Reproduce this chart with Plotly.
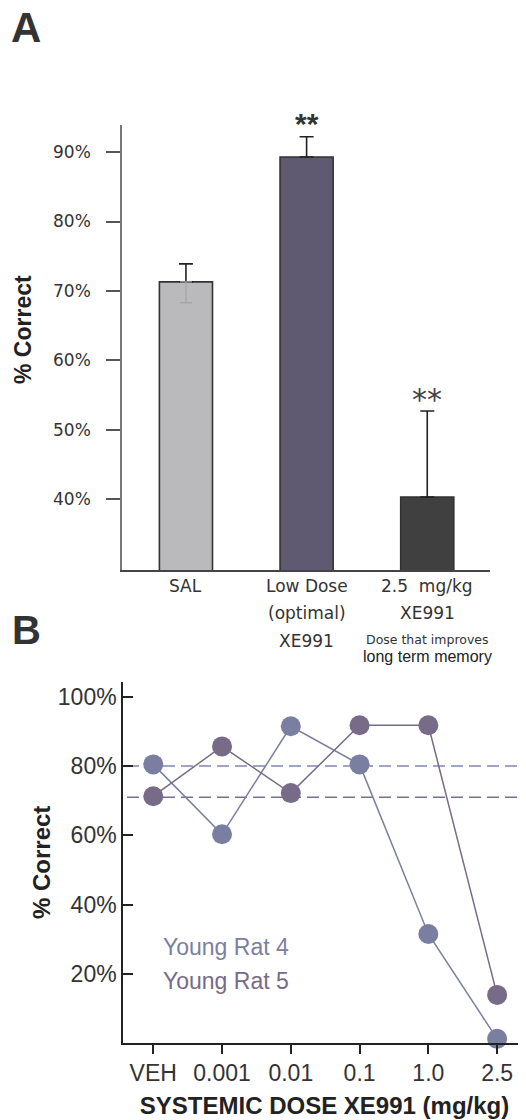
import plotly.graph_objects as go

# ---------------- Panel A data ----------------
groups_a = ["SAL", "Low Dose", "2.5 mg/kg"]
means_a = [71.3, 89.3, 40.3]
err_a = [2.6, 2.9, 12.4]
sal_lower_err = [3.0]
label_lines_a = [["SAL"], ["Low Dose", "(optimal)", "XE991"], ["2.5  mg/kg", "XE991"]]
note_lines_a = ["Dose that improves", "long term memory"]
yticks_a = [40, 50, 60, 70, 80, 90]
yticklabels_a = ["40%", "50%", "60%", "70%", "80%", "90%"]
stars_a = ["", "**", "**"]

# ---------------- Panel B data ----------------
doses_b = ["VEH", "0.001", "0.01", "0.1", "1.0", "2.5"]
rat4 = [80.5, 60.3, 91.5, 80.5, 31.5, 1.2]
rat5 = [71.3, 85.7, 72.2, 91.8, 91.8, 13.9]
ref_lines_b = [80.0, 71.0]
yticks_b = [20, 40, 60, 80, 100]
yticklabels_b = ["20%", "40%", "60%", "70%", "100%"][:0] or ["20%", "40%", "60%", "80%", "100%"]

# the page body adds an 8px margin, so the figure is sized to fit inside it
OFF = 8
W, H = 526 - OFF, 1120 - OFF - 1
def px(x):
    return (x - OFF) / W
def py(y):
    return 1 - (y - OFF) / H

bar_colors = ["#bababc", "#5f5a72", "#404040"]
c4 = "#7a7fa2"
c5 = "#776b88"
FA = "DejaVu Sans"
FB = "Liberation Sans, Arial, sans-serif"

fig = go.Figure()

fig.add_trace(go.Bar(
    x=groups_a, y=means_a, width=0.44,
    marker=dict(color=bar_colors, line=dict(color="#333333", width=1.6)),
    error_y=dict(type="data", symmetric=False, array=err_a, arrayminus=[0, 0, 0],
                 color="#222222", thickness=1.6, width=7),
    xaxis="x", yaxis="y", showlegend=False,
))
# faint lower error part inside SAL bar
fig.add_trace(go.Scatter(
    x=groups_a[:1], y=means_a[:1], mode="markers",
    marker=dict(opacity=0, size=1),
    error_y=dict(type="data", symmetric=False, array=[0], arrayminus=sal_lower_err,
                 color="#a6a6a8", thickness=1.4, width=6),
    xaxis="x", yaxis="y", showlegend=False, hoverinfo="skip",
))

fig.add_trace(go.Scatter(
    x=doses_b, y=rat4, mode="lines+markers", name="Young Rat 4",
    line=dict(color=c4, width=1.5), marker=dict(color=c4, size=20),
    xaxis="x2", yaxis="y2", showlegend=False, cliponaxis=False,
))
fig.add_trace(go.Scatter(
    x=doses_b, y=rat5, mode="lines+markers", name="Young Rat 5",
    line=dict(color=c5, width=1.5), marker=dict(color=c5, size=20),
    xaxis="x2", yaxis="y2", showlegend=False, cliponaxis=False,
))

shapes = []
for val, col in zip(ref_lines_b, ["#7d88b2", "#7a6f90"]):
    shapes.append(dict(type="line", xref="x2 domain", yref="y2", x0=0.01, x1=1,
                       y0=val, y1=val, line=dict(color=col, width=1.5, dash="12px,6px"),
                       layer="below"))

ann = []
# Panel labels
ann.append(dict(text="<b>A</b>", x=px(26), y=py(28), xref="paper", yref="paper",
                showarrow=False, font=dict(family=FB, size=42, color="#333333"),
                xanchor="center", yanchor="middle"))
ann.append(dict(text="<b>B</b>", x=px(26), y=py(630), xref="paper", yref="paper",
                showarrow=False, font=dict(family=FB, size=40, color="#333333"),
                xanchor="center", yanchor="middle"))
# Y titles
ann.append(dict(text="<b>% Correct</b>", x=px(23), y=py(330), xref="paper", yref="paper",
                showarrow=False, textangle=-90, font=dict(family=FB, size=23, color="#222222"),
                xanchor="center", yanchor="middle"))
ann.append(dict(text="<b>% Correct</b>", x=px(41), y=py(863), xref="paper", yref="paper",
                showarrow=False, textangle=-90, font=dict(family=FB, size=24, color="#222222"),
                xanchor="center", yanchor="middle"))
# Panel A category labels
line_y = [586, 613, 641]
for g, lines in zip(groups_a, label_lines_a):
    for i, t in enumerate(lines):
        ann.append(dict(text=t, x=g, y=py(line_y[i]), xref="x", yref="paper",
                        showarrow=False, font=dict(family=FA, size=17, color="#333333"),
                        xanchor="center", yanchor="middle"))
ann.append(dict(text=note_lines_a[0], x=groups_a[2], y=py(639), xref="x", yref="paper",
                showarrow=False, font=dict(family=FA, size=12.5, color="#333333"),
                xanchor="center", yanchor="middle"))
ann.append(dict(text=note_lines_a[1], x=groups_a[2], y=py(656), xref="x", yref="paper",
                showarrow=False, font=dict(family=FB, size=16, color="#222222"),
                xanchor="center", yanchor="middle"))
# significance stars
star_fonts = [None, dict(family=FB, size=30, color="#333333"), dict(family=FA, size=30, color="#444444")]
star_y = [None, 123, 400]
for g, s, f, yy in zip(groups_a, stars_a, star_fonts, star_y):
    if s:
        txt = "<b>%s</b>" % s if f["family"] == FB else s
        ann.append(dict(text=txt, x=g, y=py(yy), xref="x", yref="paper", showarrow=False,
                        font=f, xanchor="center", yanchor="middle"))
# Panel B legend texts
ann.append(dict(text="Young Rat 4", x=px(161), y=py(947), xref="paper", yref="paper",
                showarrow=False, font=dict(family=FB, size=23, color=c4),
                xanchor="left", yanchor="middle"))
ann.append(dict(text="Young Rat 5", x=px(161), y=py(981), xref="paper", yref="paper",
                showarrow=False, font=dict(family=FB, size=23, color=c5),
                xanchor="left", yanchor="middle"))

fig.update_layout(
    width=W, height=H,
    margin=dict(l=0, r=0, t=0, b=0),
    paper_bgcolor="white", plot_bgcolor="white",
    showlegend=False,
    xaxis=dict(domain=[px(122), px(490)], anchor="y", type="category",
               categoryarray=groups_a, range=[-0.53, 2.52],
               showline=True, linecolor="#444444", linewidth=1.5,
               ticks="", showticklabels=False, showgrid=False, zeroline=False),
    yaxis=dict(domain=[py(570), py(125)], anchor="x", range=[29.8, 93.9],
               tickvals=yticks_a, ticktext=yticklabels_a,
               ticks="outside", ticklen=14, tickwidth=1.5, tickcolor="#555555",
               showline=True, linecolor="#777777", linewidth=1.5,
               ticklabelstandoff=12,
               tickfont=dict(family=FA, size=17, color="#333333"),
               showgrid=False, zeroline=False),
    xaxis2=dict(domain=[px(123), 1.0], anchor="y2", type="category",
                categoryarray=doses_b, range=[-0.44, 5.42],
                showline=True, linecolor="#222222", linewidth=1.5,
                ticks="outside", ticklen=9, tickwidth=1.5, tickcolor="#222222",
                tickfont=dict(family=FB, size=23, color="#333333"),
                title=dict(text="<b>SYSTEMIC DOSE XE991 (mg/kg)</b>", standoff=16,
                           font=dict(family=FB, size=24, color="#222222")),
                showgrid=False, zeroline=False),
    yaxis2=dict(domain=[py(1043), py(682)], anchor="x2", range=[0, 104.3],
                tickvals=yticks_b, ticktext=yticklabels_b,
                ticks="inside", ticklen=10, tickwidth=1.5, tickcolor="#222222",
                showline=True, linecolor="#222222", linewidth=1.5,
                tickfont=dict(family=FB, size=23, color="#333333"),
                showgrid=False, zeroline=False),
    shapes=shapes,
    annotations=ann,
)

fig.write_html("out.html")
